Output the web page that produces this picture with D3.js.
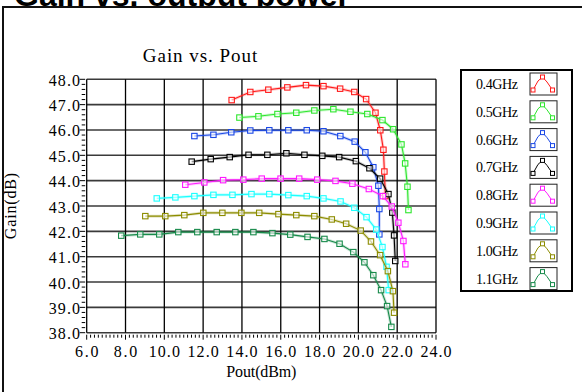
<!DOCTYPE html>
<html><head><meta charset="utf-8">
<script src="https://cdn.jsdelivr.net/npm/d3@7"></script>
<style>html,body{margin:0;padding:0;background:#fff;overflow:hidden}</style>
</head><body>
<script>
const freqLabels = ["0.4GHz","0.5GHz","0.6GHz","0.7GHz","0.8GHz","0.9GHz","1.0GHz","1.1GHz"];
const seriesColors = ["#ff1a1a","#2ee62e","#1a48e6","#000000","#ff1aff","#1affff","#8c8c00","#178a4a"];
const xTicks = [6,8,10,12,14,16,18,20,22,24];
const yTicks = [38,39,40,41,42,43,44,45,46,47,48];

const pout04 = [13.47,14.43,15.36,16.34,17.30,18.20,19.06,19.79,20.40,20.88,21.13,21.29,21.34,21.39];
const gain04 = [47.18,47.50,47.59,47.68,47.77,47.73,47.63,47.50,47.22,46.68,45.99,45.22,44.36,43.39];
const pout05 = [13.87,14.85,15.83,16.80,17.73,18.71,19.59,20.46,21.24,21.79,22.22,22.41,22.53,22.58];
const gain05 = [46.49,46.54,46.63,46.68,46.77,46.82,46.72,46.63,46.39,46.03,45.43,44.68,43.76,42.84];
const pout06 = [11.55,12.53,13.45,14.43,15.41,16.39,17.34,18.20,19.07,19.81,20.36,20.77,21.03,21.08,21.08];
const gain06 = [45.76,45.81,45.91,45.98,45.99,45.99,45.99,45.95,45.76,45.54,45.12,44.53,43.80,42.88,41.88];
const pout07 = [11.41,12.39,13.37,14.34,15.31,16.29,17.22,18.14,19.01,19.87,20.57,21.12,21.55,21.75,21.84,21.90];
const gain07 = [44.75,44.85,44.93,45.02,45.02,45.08,45.02,44.98,44.93,44.77,44.49,44.08,43.47,42.74,41.84,40.83];
const pout08 = [11.08,12.06,13.03,14.07,15.02,15.99,16.95,17.88,18.82,19.69,20.54,21.26,21.72,22.06,22.32,22.42];
const gain08 = [43.84,43.93,44.02,44.04,44.08,44.08,44.08,44.04,43.99,43.88,43.67,43.39,42.98,42.34,41.62,40.70];
const pout09 = [9.61,10.57,11.55,12.53,13.51,14.49,15.41,16.39,17.34,18.20,19.08,19.79,20.42,20.92,21.24,21.45,21.56];
const gain09 = [43.30,43.34,43.39,43.44,43.44,43.47,43.47,43.43,43.39,43.30,43.18,42.93,42.56,42.07,41.38,40.60,39.68];
const pout10 = [9.02,10.05,11.03,12.01,12.99,13.97,14.89,15.88,16.80,17.73,18.63,19.37,20.12,20.65,21.12,21.52,21.78,21.84];
const gain10 = [42.60,42.60,42.64,42.73,42.73,42.73,42.73,42.68,42.64,42.60,42.47,42.30,42.03,41.60,41.06,40.43,39.64,38.79];
const pout11 = [7.78,8.76,9.74,10.72,11.70,12.70,13.66,14.59,15.57,16.49,17.38,18.25,19.03,19.74,20.31,20.77,21.17,21.48,21.70];
const gain11 = [41.83,41.88,41.88,41.97,41.97,41.97,41.97,41.97,41.93,41.87,41.78,41.70,41.51,41.18,40.78,40.27,39.68,39.05,38.23];

const poutSets = [pout04,pout05,pout06,pout07,pout08,pout09,pout10,pout11];
const gainSets = [gain04,gain05,gain06,gain07,gain08,gain09,gain10,gain11];

const W = 582, H = 392;
const SERIF = "'Liberation Serif', 'DejaVu Serif', serif";
const svg = d3.select("body").append("svg").attr("width", W).attr("height", H);

// slide title (cut off at top, as in the reference)
svg.append("text").attr("x", 14).attr("y", 6)
  .style("font-family","'Liberation Sans', Arial, sans-serif").style("font-weight","bold")
  .style("font-size","32px").attr("fill","#000").text("Gain vs. output power");

// image frame
svg.append("rect").attr("x", 3).attr("y", 7).attr("width", 620).attr("height", 420)
  .attr("fill","#fff").attr("stroke","#111").attr("stroke-width", 2);

const x = d3.scaleLinear().domain([6,24]).range([86.7,436]);
const y = d3.scaleLinear().domain([38,48]).range([332.7,79.3]);

function fixText(sel, str, size, cw) {
  return sel.text(str).style("font-family", SERIF).style("font-size", size + "px")
    .attr("textLength", str.length * cw).attr("lengthAdjust", "spacing");
}

// chart title
fixText(svg.append("text").attr("x", 200).attr("y", 62).attr("text-anchor","middle"), "Gain vs. Pout", 19, 8.8);

// grid
const g = svg.append("g");
g.selectAll(".hg").data(yTicks).enter().append("line")
  .attr("x1", x(6)).attr("x2", x(24)).attr("y1", d => y(d)).attr("y2", d => y(d))
  .attr("stroke", "#3a3a3a").attr("stroke-width", 1.6);
g.selectAll(".vg").data(xTicks).enter().append("line")
  .attr("y1", y(48)).attr("y2", y(38)).attr("x1", d => x(d)).attr("x2", d => x(d))
  .attr("stroke", "#000").attr("stroke-width", 1.3);

// axes ticks
const xMinor = d3.range(6, 24.001, 0.2);
const yMinor = d3.range(38, 48.001, 0.2);
g.selectAll(".xt").data(xMinor).enter().append("line")
  .attr("x1", d => x(d)).attr("x2", d => x(d)).attr("y1", y(38) + 2)
  .attr("y2", (d, i) => y(38) + (i % 10 === 0 ? 7 : 5))
  .attr("stroke", "#000").attr("stroke-width", 1);
g.selectAll(".yt").data(yMinor).enter().append("line")
  .attr("y1", d => y(d)).attr("y2", d => y(d)).attr("x2", x(6) - 1.5)
  .attr("x1", (d, i) => x(6) - (i % 5 === 0 ? 7 : 5))
  .attr("stroke", "#000").attr("stroke-width", 1);

// tick labels
g.selectAll(".xl").data(xTicks).enter().append("text")
  .attr("x", d => x(d)).attr("y", 357).attr("text-anchor","middle")
  .each(function(d){ fixText(d3.select(this), d.toFixed(1), 16, 7.8); });
g.selectAll(".yl").data(yTicks).enter().append("text")
  .attr("x", 80).attr("y", d => y(d) + 6.5).attr("text-anchor","end")
  .each(function(d){ fixText(d3.select(this), d.toFixed(1), 16, 7.8); });

// axis labels
fixText(svg.append("text").attr("x", (x(6)+x(24))/2).attr("y", 377).attr("text-anchor","middle"), "Pout(dBm)", 16, 7.8);
fixText(svg.append("text").attr("transform", "translate(16," + ((y(38)+y(48))/2) + ") rotate(-90)")
  .attr("text-anchor","middle"), "Gain(dB)", 16, 8.3);

// series
const line = d3.line().x(d => x(d[0])).y(d => y(d[1]));
poutSets.forEach((px, si) => {
  const pts = px.map((v, i) => [v, gainSets[si][i]]);
  const col = seriesColors[si];
  const sg = svg.append("g");
  sg.append("path").datum(pts).attr("d", line).attr("fill","none")
    .attr("stroke", col).attr("stroke-width", 3).attr("stroke-opacity", 0.22);
  sg.append("path").datum(pts).attr("d", line).attr("fill","none")
    .attr("stroke", col).attr("stroke-width", 1.1);
  sg.selectAll("rect").data(pts).enter().append("rect")
    .attr("x", d => x(d[0]) - 2.7).attr("y", d => y(d[1]) - 2.7)
    .attr("width", 5.4).attr("height", 5.4)
    .attr("fill", "#fff").attr("fill-opacity", 0.6)
    .attr("stroke", col).attr("stroke-width", 1.1);
});

// legend
const lg = svg.append("g");
lg.append("rect").attr("x", 461).attr("y", 70).attr("width", 111).attr("height", 221)
  .attr("fill","#fff").attr("stroke","#000").attr("stroke-width", 2);
freqLabels.forEach((lab, i) => {
  const cy = 84 + i * 27.8;
  fixText(lg.append("text").attr("x", 518).attr("y", cy + 5).attr("text-anchor","end"), lab, 14, 7);
  const bx = 530, by = cy - 11;
  lg.append("rect").attr("x", bx).attr("y", by).attr("width", 27).attr("height", 22)
    .attr("fill","#fff").attr("stroke","#222").attr("stroke-width", 1);
  const col = seriesColors[i];
  const icon = [[bx+3, by+17],[bx+8, by+8],[bx+12.5, by+4],[bx+17, by+9],[bx+22.5, by+17]];
  lg.append("path").attr("d", d3.line()(icon)).attr("fill","none").attr("stroke", col).attr("stroke-width", 1);
  [icon[0], icon[2], icon[4]].forEach(p => {
    lg.append("rect").attr("x", p[0]-2).attr("y", p[1]-2).attr("width", 4).attr("height", 4)
      .attr("fill","#fff").attr("stroke", col).attr("stroke-width", 1);
  });
});
</script>
</body></html>
